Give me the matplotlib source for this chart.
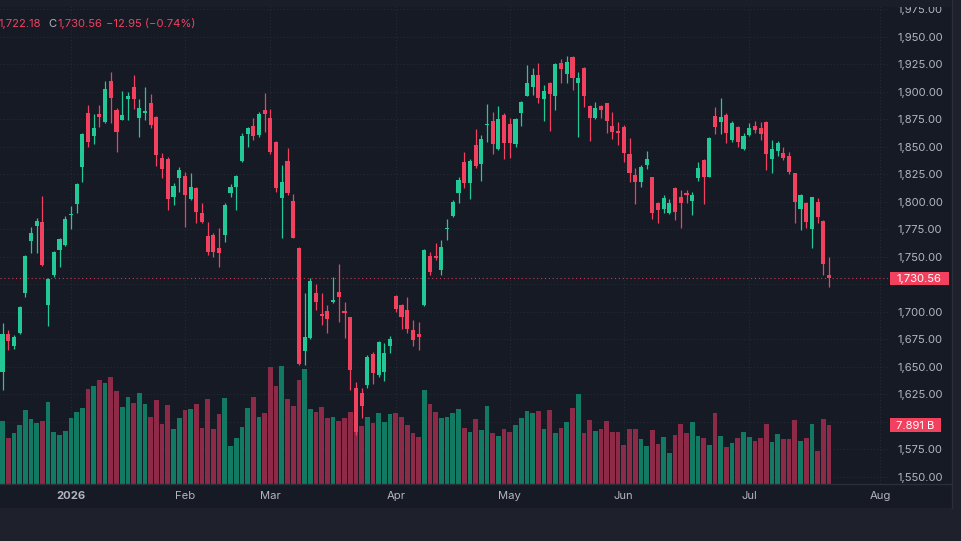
import numpy as np
import matplotlib.pyplot as plt
from matplotlib.patches import Rectangle
from matplotlib.transforms import blended_transform_factory

W, H = 961, 541

# daily OHLC (index 0 = first visible bar)
opens = [
    1644.9, 1679.7, 1669.1, 1680.3, 1716.7, 1764.3, 1777.9, 1781.2, 1706.1, 1733.4,
    1756.1, 1760.6, 1787.6, 1797.9, 1831.2, 1880.3, 1859.7, 1879.7, 1872.4, 1909.7,
    1883.3, 1874.3, 1893.3, 1904.0, 1875.8, 1880.3, 1890.0, 1877.3, 1840.0, 1838.8,
    1804.0, 1821.8, 1823.4, 1802.1, 1812.1, 1789.4, 1768.8, 1769.7, 1757.6, 1769.7,
    1808.2, 1813.7, 1837.3, 1861.5, 1869.1, 1860.6, 1883.3, 1875.8, 1854.0, 1803.1,
    1837.0, 1800.6, 1757.6, 1664.3, 1675.8, 1716.7, 1697.9, 1700.9, 1709.1, 1718.2,
    1700.6, 1694.9, 1630.3, 1626.4, 1633.4, 1661.5, 1642.5, 1645.5, 1668.8, 1714.3,
    1706.1, 1701.5, 1683.4, 1679.7, 1706.1, 1750.6, 1750.6, 1737.9, 1774.9, 1787.0,
    1807.6, 1835.8, 1817.3, 1851.6, 1834.3, 1869.7, 1873.4, 1847.9, 1878.8, 1870.6,
    1852.2, 1880.3, 1896.4, 1904.6, 1915.2, 1893.4, 1908.2, 1896.4, 1926.4, 1915.8,
    1931.8, 1907.6, 1921.8, 1887.3, 1875.8, 1887.0, 1889.4, 1868.8, 1864.0, 1867.6,
    1843.1, 1824.3, 1817.6, 1833.4, 1822.2, 1799.1, 1793.4, 1789.4, 1812.8, 1803.9,
    1807.6, 1800.9, 1821.2, 1837.9, 1822.7, 1877.9, 1872.7, 1878.8, 1856.1, 1868.2,
    1847.6, 1860.6, 1869.1, 1866.7, 1872.7, 1838.5, 1846.4, 1843.9, 1841.8, 1825.8,
    1793.0, 1799.1, 1774.9, 1799.4, 1782.7, 1733.3,
]
highs = [
    1689.4, 1683.4, 1678.8, 1705.5, 1751.5, 1777.3, 1784.9, 1805.5, 1730.3, 1755.2,
    1766.7, 1787.3, 1796.4, 1817.3, 1862.1, 1887.9, 1879.4, 1887.9, 1910.0, 1917.6,
    1885.0, 1900.6, 1900.0, 1915.2, 1893.0, 1904.0, 1897.9, 1877.8, 1844.6, 1841.0,
    1816.7, 1831.2, 1827.3, 1826.4, 1813.6, 1799.1, 1781.8, 1771.2, 1775.8, 1799.1,
    1816.1, 1824.3, 1862.1, 1868.2, 1875.8, 1881.2, 1899.1, 1884.3, 1855.0, 1833.4,
    1848.5, 1806.7, 1758.5, 1716.7, 1730.3, 1725.2, 1716.7, 1706.1, 1731.8, 1743.4,
    1709.1, 1695.5, 1636.4, 1630.3, 1660.6, 1663.7, 1673.5, 1671.8, 1678.0, 1715.2,
    1706.8, 1713.6, 1692.4, 1690.3, 1756.6, 1754.6, 1762.1, 1765.2, 1784.0, 1801.5,
    1822.7, 1845.5, 1838.5, 1865.8, 1860.6, 1888.5, 1881.2, 1887.0, 1880.9, 1875.8,
    1875.8, 1891.6, 1924.3, 1921.2, 1926.4, 1906.1, 1909.1, 1926.4, 1929.7, 1932.5,
    1932.3, 1918.2, 1922.8, 1887.9, 1890.9, 1887.5, 1889.9, 1881.9, 1872.8, 1869.7,
    1858.2, 1831.0, 1833.4, 1846.1, 1822.7, 1800.0, 1806.1, 1802.2, 1813.7, 1810.6,
    1810.6, 1809.1, 1836.4, 1838.4, 1858.5, 1886.4, 1894.5, 1880.3, 1873.3, 1868.7,
    1862.1, 1871.2, 1873.6, 1872.7, 1873.6, 1856.1, 1855.1, 1850.0, 1845.5, 1826.3,
    1806.6, 1799.6, 1804.4, 1803.0, 1783.2, 1750.0,
]
lows = [
    1628.8, 1665.2, 1665.8, 1679.7, 1713.1, 1753.7, 1753.7, 1741.8, 1687.3, 1731.8,
    1740.9, 1760.0, 1774.9, 1790.0, 1818.2, 1849.4, 1852.4, 1868.2, 1871.2, 1871.2,
    1845.5, 1874.0, 1874.3, 1884.0, 1858.5, 1874.3, 1866.7, 1832.4, 1821.2, 1792.4,
    1797.0, 1809.1, 1777.3, 1801.6, 1780.9, 1780.5, 1751.5, 1750.0, 1740.9, 1763.7,
    1804.6, 1792.4, 1836.4, 1849.4, 1856.1, 1858.5, 1863.7, 1843.3, 1809.1, 1766.7,
    1806.1, 1766.7, 1651.5, 1651.5, 1675.0, 1701.5, 1687.9, 1680.3, 1707.6, 1690.9,
    1675.8, 1628.8, 1587.9, 1603.1, 1630.3, 1634.3, 1641.0, 1637.3, 1662.8, 1700.0,
    1684.0, 1680.3, 1668.8, 1665.2, 1705.5, 1733.4, 1747.0, 1733.4, 1765.2, 1786.4,
    1799.1, 1812.2, 1802.2, 1830.3, 1819.1, 1854.6, 1843.1, 1847.4, 1838.5, 1840.0,
    1849.4, 1868.8, 1895.9, 1897.0, 1889.4, 1873.7, 1864.6, 1883.4, 1907.6, 1907.6,
    1901.5, 1858.5, 1886.4, 1855.5, 1875.3, 1875.8, 1862.8, 1856.7, 1851.6, 1836.4,
    1818.2, 1797.9, 1813.1, 1829.7, 1784.3, 1780.3, 1789.4, 1789.0, 1783.4, 1775.8,
    1799.1, 1787.9, 1819.1, 1797.9, 1822.2, 1861.5, 1861.5, 1853.0, 1854.5, 1850.0,
    1847.1, 1859.7, 1862.1, 1856.1, 1828.8, 1825.8, 1841.8, 1837.9, 1824.9, 1780.9,
    1774.2, 1775.8, 1757.6, 1780.3, 1733.3, 1722.18,
]
closes = [
    1679.7, 1673.4, 1676.7, 1704.6, 1750.9, 1771.8, 1782.8, 1742.8, 1730.0, 1754.6,
    1766.1, 1784.3, 1788.8, 1816.1, 1861.5, 1854.6, 1867.3, 1876.7, 1902.4, 1894.0,
    1863.7, 1878.8, 1896.4, 1893.0, 1884.9, 1882.4, 1869.7, 1842.4, 1829.4, 1802.1,
    1814.3, 1828.8, 1806.1, 1813.1, 1790.9, 1781.8, 1754.6, 1754.6, 1753.7, 1797.0,
    1813.7, 1823.4, 1859.7, 1866.7, 1859.7, 1879.7, 1879.7, 1845.5, 1812.8, 1817.6,
    1807.6, 1767.3, 1652.2, 1676.7, 1728.2, 1709.1, 1696.1, 1693.1, 1710.6, 1713.1,
    1698.5, 1647.0, 1590.9, 1614.3, 1658.5, 1644.0, 1672.8, 1662.8, 1674.9, 1702.1,
    1694.9, 1684.0, 1674.3, 1677.3, 1756.1, 1735.8, 1749.1, 1758.5, 1775.8, 1800.0,
    1819.7, 1816.7, 1837.0, 1832.8, 1856.7, 1870.3, 1852.2, 1875.2, 1853.1, 1853.1,
    1874.9, 1890.9, 1908.2, 1915.2, 1894.6, 1900.6, 1897.6, 1925.2, 1920.6, 1927.3,
    1912.2, 1912.8, 1896.4, 1876.4, 1885.5, 1883.4, 1873.7, 1863.1, 1862.5, 1844.0,
    1825.8, 1818.2, 1831.3, 1838.5, 1790.0, 1792.5, 1803.7, 1798.5, 1791.0, 1798.5,
    1806.1, 1806.1, 1830.3, 1822.7, 1857.6, 1868.2, 1877.3, 1862.1, 1871.8, 1854.5,
    1859.7, 1866.7, 1865.1, 1861.2, 1843.3, 1847.6, 1853.0, 1839.4, 1827.3, 1800.0,
    1806.1, 1781.8, 1803.9, 1786.4, 1743.51, 1730.56,
]
# volume in billions
volumes = [
    8.43, 6.20, 6.87, 7.85, 9.90, 8.69, 8.20, 8.43, 10.92, 6.95,
    6.51, 7.13, 8.78, 9.67, 10.21, 12.66, 13.11, 13.86, 13.55, 14.31,
    12.44, 10.34, 11.68, 10.87, 12.13, 10.70, 9.00, 11.23, 7.98, 10.57,
    7.31, 8.87, 9.90, 9.99, 10.66, 7.53, 11.37, 7.40, 9.32, 11.54,
    5.12, 6.19, 7.66, 10.12, 11.68, 9.00, 9.46, 15.61, 13.11, 15.82,
    11.37, 10.43, 13.91, 15.38, 9.99, 9.67, 10.25, 8.78, 8.92, 8.47,
    8.87, 9.67, 12.80, 7.76, 8.92, 8.12, 9.46, 8.33, 9.36, 9.46,
    8.92, 7.89, 6.78, 6.33, 12.57, 10.70, 9.67, 8.78, 8.92, 9.54,
    9.99, 7.53, 7.00, 8.74, 7.18, 10.39, 6.82, 6.42, 7.31, 7.00,
    7.85, 8.87, 9.72, 9.54, 9.72, 7.40, 9.86, 6.86, 7.53, 8.33,
    10.16, 12.08, 6.86, 8.60, 7.13, 7.40, 8.39, 6.95, 6.95, 5.22,
    7.36, 7.31, 6.06, 5.08, 7.22, 5.35, 6.33, 4.19, 6.51, 8.02,
    6.78, 8.29, 6.42, 6.15, 5.22, 9.50, 6.42, 4.99, 5.44, 6.11,
    6.95, 6.24, 5.75, 6.20, 8.07, 5.66, 6.73, 5.98, 6.02, 8.56,
    5.75, 6.15, 7.98, 4.45, 8.69, 7.891,
]

month_idx = [12, 32, 47, 69, 89, 109, 131, 154]
month_labels = ["2026", "Feb", "Mar", "Apr", "May", "Jun", "Jul", "Aug"]
price_ticks = list(range(1550, 2000, 25))
hidden_ticks = [1600, 1725]  # covered by the volume / last price tags
last_close = 1730.56
last_low = 1722.18
change = -12.95
change_pct = -0.74
last_volume = 7.891

BG = "#161a25"
TOPBAND = "#1a1e29"
OUTER = "#1e212b"
BORDER = "#2a2e39"
GRID = "#262a36"
TEXT = "#b2b5be"
UP = "#22c997"
DOWN = "#f2415f"
VUP = "#127a63"
VDOWN = "#8c2a47"
FS = 8.1
plt.rcParams["font.family"] = ["Inter", "DejaVu Sans"]


def fx(px):
    return px / W


def fy(py):
    return 1 - py / H


fig = plt.figure(figsize=(W / 100, H / 100), dpi=100, facecolor=OUTER)

# dark chart panel + borders
fig.patches.append(Rectangle((0, fy(508)), fx(952), 508 / H, transform=fig.transFigure,
                             facecolor=BG, edgecolor="none", zorder=-5))
fig.add_artist(plt.Line2D([0, fx(952)], [fy(484), fy(484)], color=BORDER, lw=1))
fig.add_artist(plt.Line2D([fx(952), fx(952)], [fy(508), 1], color=BORDER, lw=1))

rect = [0, fy(484), fx(888), 484 / H]
ax_v = fig.add_axes(rect)
ax = fig.add_axes(rect)

idx = np.arange(len(opens))
o, h, l, c = (np.array(a) for a in (opens, highs, lows, closes))
up = c >= o
xlim = (-2.5 / 5.7, (888 - 2.5) / 5.7)

# volume pane (drawn underneath)
ax_v.patch.set_alpha(0)
ax_v.bar(idx, volumes, width=0.82, color=np.where(up, VUP, VDOWN), linewidth=0, zorder=2)
ax_v.set_xlim(*xlim)
ax_v.set_ylim(0, 484 / 7.477)
for s in ax_v.spines.values():
    s.set_visible(False)
ax_v.set_xticks([])
ax_v.set_yticks([])

# grid on the bottom pane so it sits under the bars
gtrans = blended_transform_factory(ax_v.transData, ax.transData)
ax_v.hlines(price_ticks, xlim[0], xlim[1], transform=gtrans, colors=GRID,
            linestyles=(0, (1, 2)), lw=0.8, zorder=1)
ax_v.vlines(month_idx, 0, 484 / 7.477, colors=GRID, linestyles=(0, (1, 2)), lw=0.8, zorder=1)

# candles
ax.patch.set_alpha(0)
col = np.where(up, UP, DOWN)
ax.vlines(idx, l, h, colors=col, lw=0.9, zorder=3)
ax.bar(idx, np.maximum(np.abs(c - o), 0.9), bottom=np.minimum(o, c), width=0.72,
       color=col, linewidth=0, zorder=4)
ax.axhline(last_close, color=DOWN, lw=0.8, ls=(0, (1, 2.5)), alpha=0.8, zorder=2)

ax.set_xlim(*xlim)
ax.set_ylim(1900 - (484 - 91.7) / 1.1, 1900 + 91.7 / 1.1)
for s in ax.spines.values():
    s.set_visible(False)

ax.yaxis.tick_right()
ax.set_yticks(price_ticks)
ax.set_yticklabels(["" if p in hidden_ticks else f"{p:,.2f}" for p in price_ticks])
ax.tick_params(axis="y", length=0, pad=6.5, labelsize=FS, labelcolor=TEXT)
ax.set_xticks(month_idx)
ax.set_xticklabels(month_labels)
ax.tick_params(axis="x", length=0, pad=5.2, labelsize=FS, labelcolor=TEXT)
ax.get_xticklabels()[0].set_fontweight("bold")

# last price / last volume tags on the axis
ptrans = blended_transform_factory(fig.transFigure, ax.transData)
ax.add_patch(Rectangle((fx(890), last_close - 6.5 / 1.1), fx(59), 13 / 1.1,
                       transform=ptrans, facecolor=DOWN, edgecolor="none",
                       clip_on=False, zorder=6))
ax.text(fx(896.5), last_close, f"{last_close:,.2f}", transform=ptrans, color="white",
        fontsize=FS, ha="left", va="center_baseline", clip_on=False, zorder=7)

vtrans = blended_transform_factory(fig.transFigure, ax_v.transData)
ax.add_patch(Rectangle((fx(890), last_volume - 7 / 7.477), fx(51), 14 / 7.477,
                       transform=vtrans, facecolor=DOWN, edgecolor="none",
                       clip_on=False, zorder=6))
ax.text(fx(896.5), last_volume, f"{last_volume:.3f} B", transform=vtrans, color="white",
        fontsize=FS, ha="left", va="center_baseline", clip_on=False, zorder=7)

# thin band along the top edge that clips the 1,975 label as in the screenshot
fig.add_artist(Rectangle((0, fy(7)), fx(952), 7 / H, transform=fig.transFigure,
                         facecolor=TOPBAND, edgecolor="none", zorder=10))

# legend line at the top left (cut off at the left edge as in the screenshot)
fig.text(fx(-1.5), fy(23), f"{last_low:,.2f}", color=DOWN, fontsize=FS, va="center_baseline")
fig.text(fx(48.5), fy(23), "C", color=TEXT, fontsize=FS, va="center_baseline")
fig.text(fx(57), fy(23), f"{last_close:,.2f}", color=DOWN, fontsize=FS, va="center_baseline")
fig.text(fx(105.5), fy(23), f"\u2212{abs(change):.2f} (\u2212{abs(change_pct):.2f}%)",
         color=DOWN, fontsize=FS, va="center_baseline")

fig.savefig("out.png", dpi=100, facecolor=OUTER)
